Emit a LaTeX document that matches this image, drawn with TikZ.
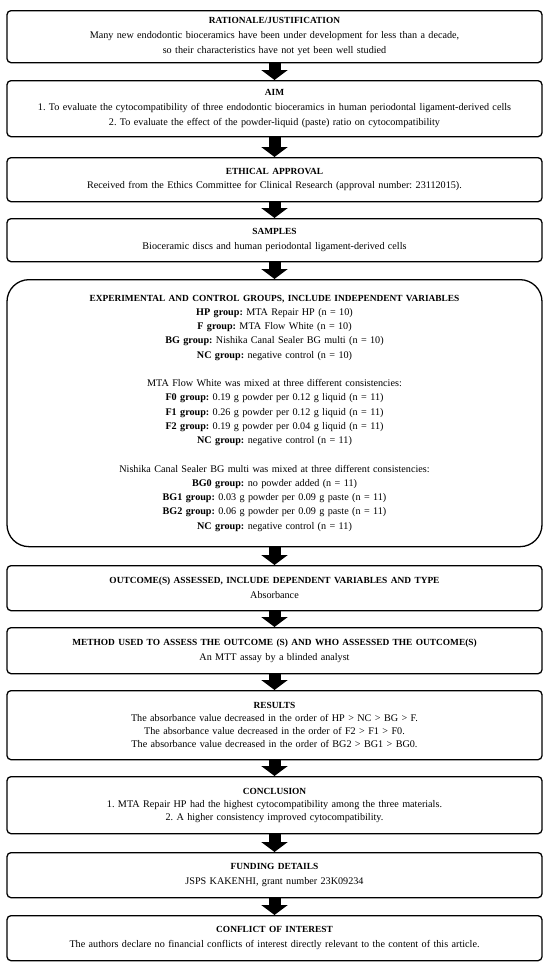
\documentclass[tikz,border=0pt]{standalone}
\usepackage{fontspec}
\setmainfont{Liberation Serif}
\usetikzlibrary{arrows.meta}
\frenchspacing
\newcommand\ttl[1]{{\fontsize{9.4}{9.4}\selectfont\bfseries #1}}
\tikzset{
  box/.style={draw=black, line width=1.3bp, rounded corners=4bp, fill=white,
    anchor=north, minimum width=535bp, text width=529bp, inner xsep=3bp, inner ysep=0bp,
    align=center, font=\fontsize{10.2}{15}\selectfont},
  lsk/.style={font=\fontsize{10.2}{#1}\selectfont},
  bigbox/.style={box, rounded corners=22bp},
  blk/.style={draw=black, line width=12bp, -{Triangle[width=26bp,length=10bp]}},
}
\begin{document}
\begin{tikzpicture}[x=1bp,y=-1bp]
\useasboundingbox[fill=white] (0,0) rectangle (550,966);
\node[box, lsk=15.4, minimum height=52bp] (n1) at (274.5,10)
  {\ttl{RATIONALE/JUSTIFICATION}\\
   Many new endodontic bioceramics have been under development for less than a decade,\\
   so their characteristics have not yet been well studied};
\node[box, lsk=15.4, minimum height=56bp] (n2) at (274.5,80)
  {\ttl{AIM}\\
   1. To evaluate the cytocompatibility of three endodontic bioceramics in human periodontal ligament-derived cells\\
   2. To evaluate the effect of the powder-liquid (paste) ratio on cytocompatibility};
\node[box, lsk=14.5, minimum height=44bp] (n3) at (274.5,157)
  {\ttl{ETHICAL APPROVAL}\\
   Received from the Ethics Committee for Clinical Research (approval number: 23112015).};
\node[box, minimum height=43bp] (n4) at (274.5,218)
  {\ttl{SAMPLES}\\
   Bioceramic discs and human periodontal ligament-derived cells};
\node[bigbox, lsk=14.3, minimum height=267bp] (n5) at (274.5,279)
  {\ttl{EXPERIMENTAL AND CONTROL GROUPS, INCLUDE INDEPENDENT VARIABLES}\\
   \textbf{HP group:} MTA Repair HP (n = 10)\\
   \textbf{F group:} MTA Flow White (n = 10)\\
   \textbf{BG group:} Nishika Canal Sealer BG multi (n = 10)\\
   \textbf{NC group:} negative control (n = 10)\\[14.3bp]
   MTA Flow White was mixed at three different consistencies:\\
   \textbf{F0 group:} 0.19 g powder per 0.12 g liquid (n = 11)\\
   \textbf{F1 group:} 0.26 g powder per 0.12 g liquid (n = 11)\\
   \textbf{F2 group:} 0.19 g powder per 0.04 g liquid (n = 11)\\
   \textbf{NC group:} negative control (n = 11)\\[14.3bp]
   Nishika Canal Sealer BG multi was mixed at three different consistencies:\\
   \textbf{BG0 group:} no powder added (n = 11)\\
   \textbf{BG1 group:} 0.03 g powder per 0.09 g paste (n = 11)\\
   \textbf{BG2 group:} 0.06 g powder per 0.09 g paste (n = 11)\\
   \textbf{NC group:} negative control (n = 11)};
\node[box, minimum height=45bp] (n6) at (274.5,565)
  {\ttl{OUTCOME(S) ASSESSED, INCLUDE DEPENDENT VARIABLES AND TYPE}\\
   Absorbance};
\node[box, minimum height=46bp] (n7) at (274.5,627)
  {\ttl{METHOD USED TO ASSESS THE OUTCOME (S) AND WHO ASSESSED THE OUTCOME(S)}\\
   An MTT assay by a blinded analyst};
\node[box, lsk=13, minimum height=69bp] (n8) at (274.5,690)
  {\ttl{RESULTS}\\
   The absorbance value decreased in the order of HP > NC > BG > F.\\
   The absorbance value decreased in the order of F2 > F1 > F0.\\
   The absorbance value decreased in the order of BG2 > BG1 > BG0.};
\node[box, lsk=13, minimum height=57bp] (n9) at (274.5,776)
  {\ttl{CONCLUSION}\\
   1. MTA Repair HP had the highest cytocompatibility among the three materials.\\
   2. A higher consistency improved cytocompatibility.};
\node[box, minimum height=45bp] (n10) at (274.5,852)
  {\ttl{FUNDING DETAILS}\\
   JSPS KAKENHI, grant number 23K09234};
\node[box, minimum height=45bp] (n11) at (274.5,915)
  {\ttl{CONFLICT OF INTEREST}\\
   The authors declare no financial conflicts of interest directly relevant to the content of this article.};
\foreach \a/\b in {n1/n2,n2/n3,n3/n4,n4/n5,n5/n6,n6/n7,n7/n8,n8/n9,n9/n10,n10/n11}
  \draw[blk] (\a.south) -- (\b.north);
\end{tikzpicture}
\end{document}
